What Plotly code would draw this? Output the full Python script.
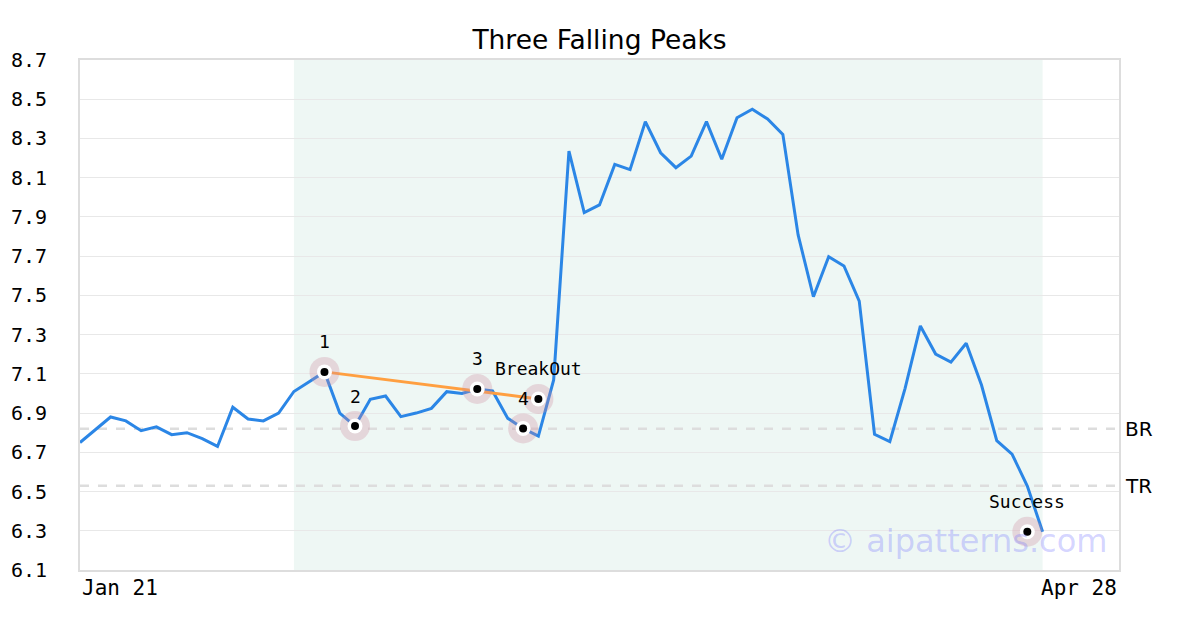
import plotly.graph_objects as go

# ---- data ----
idx = list(range(64))
price = [6.75, 6.815, 6.88, 6.86, 6.81, 6.83, 6.79, 6.80, 6.77, 6.73,
         6.93, 6.87, 6.86, 6.90, 7.01, 7.06, 7.11, 6.90, 6.834, 6.97,
         6.987, 6.882, 6.90, 6.924, 7.009, 7.00, 7.023, 7.013, 6.873, 6.822,
         6.783, 7.069, 8.236, 7.922, 7.961, 8.168, 8.141, 8.386, 8.227, 8.151,
         8.21, 8.386, 8.194, 8.406, 8.449, 8.399, 8.321, 7.808, 7.493, 7.697,
         7.65, 7.471, 6.792, 6.754, 7.026, 7.344, 7.201, 7.16, 7.256, 7.043,
         6.759, 6.691, 6.528, 6.295]

marker_labels = ["1", "2", "3", "4", "BreakOut", "Success"]
marker_x = [16, 18, 26, 29, 30, 62]
marker_y = [7.11, 6.834, 7.023, 6.822, 6.972, 6.295]

trend_x = [16, 30]
trend_y = [7.11, 6.972]

level_names = ["BR", "TR"]
level_values = [6.82, 6.53]

shade_range = [14, 63]
x_range = [0, 68]
date_tick_pos = [0, 68]
date_tick_text = ["Jan 21", "Apr 28"]

y_min, y_max, y_step = 6.1, 8.7, 0.2

MONO = "DejaVu Sans Mono"
SANS = "DejaVu Sans"

fig = go.Figure()

# price line
fig.add_trace(go.Scatter(x=idx, y=price, mode="lines",
                         line=dict(color="#2b86e6", width=3),
                         hoverinfo="skip", showlegend=False))
# trend line
fig.add_trace(go.Scatter(x=trend_x, y=trend_y, mode="lines",
                         line=dict(color="#ff9f40", width=3),
                         hoverinfo="skip", showlegend=False))
# markers: halo, white ring, black dot
fig.add_trace(go.Scatter(x=marker_x, y=marker_y, mode="markers",
                         marker=dict(size=30, color="rgba(205,140,160,0.3)", line=dict(width=0)),
                         hoverinfo="skip", showlegend=False))
fig.add_trace(go.Scatter(x=marker_x, y=marker_y, mode="markers",
                         marker=dict(size=15, color="white", line=dict(width=0)),
                         hoverinfo="skip", showlegend=False))
fig.add_trace(go.Scatter(x=marker_x, y=marker_y, mode="markers",
                         marker=dict(size=8, color="black", line=dict(width=0)),
                         hoverinfo="skip", showlegend=False))

# marker labels
for lab, mx, my in zip(marker_labels, marker_x, marker_y):
    fig.add_annotation(x=mx, y=my, text=lab, showarrow=False, yshift=30,
                       font=dict(family=MONO, size=18, color="black"))

# shaded region
fig.add_shape(type="rect", xref="x", yref="paper", x0=shade_range[0], x1=shade_range[1],
              y0=0, y1=1, fillcolor="#eef7f4", line=dict(width=0), layer="below")

# level lines + labels
for name, v in zip(level_names, level_values):
    fig.add_shape(type="line", xref="paper", yref="y", x0=0, x1=1, y0=v, y1=v,
                  line=dict(color="#dddddd", width=2.5, dash="dash"), layer="below")
    fig.add_annotation(xref="paper", yref="y", x=1, y=v, text=name, showarrow=False,
                       xanchor="left", xshift=4, font=dict(family=SANS, size=20, color="black"))

# date tick labels
for pos, txt in zip(date_tick_pos, date_tick_text):
    fig.add_annotation(xref="x", yref="paper", x=pos, y=0, text=txt, showarrow=False,
                       xanchor="left" if pos == date_tick_pos[0] else "right",
                       yanchor="top", yshift=-4,
                       font=dict(family=MONO, size=21, color="black"))

# watermark
fig.add_annotation(xref="paper", yref="paper", x=0.99, y=0.0, xanchor="right", yanchor="bottom",
                   yshift=8, text="© aipatterns.com", showarrow=False,
                   font=dict(family=SANS, size=32, color="rgba(110,110,255,0.3)"))

ticks = [round(y_min + i * y_step, 1) for i in range(int(round((y_max - y_min) / y_step)) + 1)]

fig.update_layout(
    width=1200, height=630,
    margin=dict(l=72, r=89, t=52, b=68, autoexpand=False),
    paper_bgcolor="white", plot_bgcolor="white",
    title=dict(text="Three Falling Peaks", xref="paper", x=0.5, xanchor="center",
               y=0.949, yanchor="middle",
               font=dict(family=SANS, size=26.5, color="black")),
    xaxis=dict(range=x_range, showticklabels=False, showgrid=False, zeroline=False,
               automargin=False,
               showline=True, mirror=True, linecolor="#dddddd", linewidth=2, ticks=""),
    yaxis=dict(range=[y_min, y_max], tickvals=ticks, ticktext=[f"{t:.1f}" for t in ticks],
               showgrid=True, gridcolor="#e8e8e8", gridwidth=1, zeroline=False,
               automargin=False,
               showline=True, mirror=True, linecolor="#dddddd", linewidth=2, ticks="",
               ticklabelstandoff=27,
               tickfont=dict(family=MONO, size=20, color="black")),
    font=dict(family=SANS),
)

fig.write_html("out.html")
